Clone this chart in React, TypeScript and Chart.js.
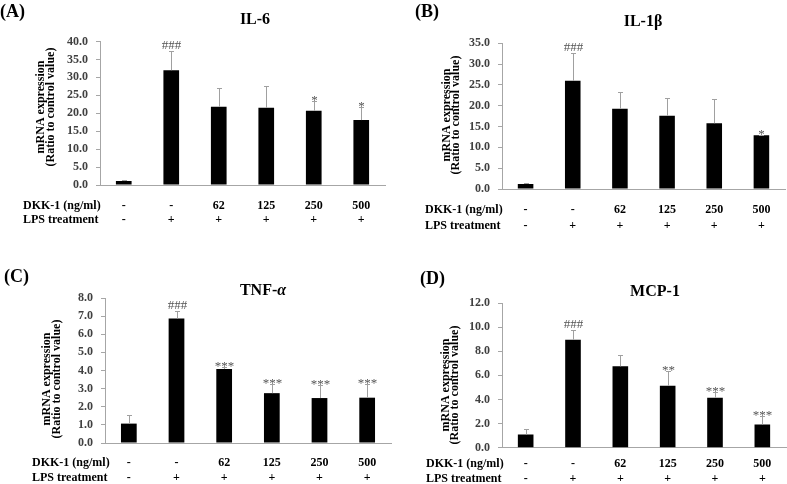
import React, { useEffect, useRef } from 'react';
import { Chart, registerables } from 'chart.js';

Chart.register(...registerables);

// ---------- data ----------
const categories = ['Control', 'LPS', 'DKK-1 62', 'DKK-1 125', 'DKK-1 250', 'DKK-1 500'];
const dkkLabels = ['-', '-', '62', '125', '250', '500'];
const lpsLabels = ['-', '+', '+', '+', '+', '+'];

const il6Values = [1.1, 32.0, 21.8, 21.5, 20.7, 18.1];
const il6Errors = [0.3, 5.3, 5.2, 6.1, 2.8, 3.7];
const il6Marks = ['', '###', '', '', '*', '*'];

const il1bValues = [1.2, 26.0, 19.3, 17.6, 15.8, 12.9];
const il1bErrors = [0.3, 6.6, 4.0, 4.3, 5.7, 0.1];
const il1bMarks = ['', '###', '', '', '', '*'];

const tnfValues = [1.07, 6.87, 4.08, 2.75, 2.48, 2.5];
const tnfErrors = [0.48, 0.4, 0.1, 0.52, 0.72, 0.77];
const tnfMarks = ['', '###', '***', '***', '***', '***'];

const mcpValues = [1.1, 8.96, 6.75, 5.14, 4.15, 1.93];
const mcpErrors = [0.42, 0.84, 0.93, 1.26, 0.45, 0.67];
const mcpMarks = ['', '###', '', '**', '***', '***'];

const yTitleLines = ['mRNA expression', '(Ratio to control value)'];
const dkkRowTitle = 'DKK-1 (ng/ml)';
const lpsRowTitle = 'LPS treatment';

// ---------- styles / layout ----------
const FONT = '"Liberation Serif", "Times New Roman", serif';
const AXIS_COLOR = '#a6a6a6';
const ERR_COLOR = '#a0a0a0';
const TICK_COLOR = '#404040';
const MARK_COLOR = '#555555';

type PanelCfg = {
  letter: string;
  title: string;
  titleItalicTail?: string;
  values: number[];
  errors: number[];
  marks: string[];
  yMax: number;
  yStep: number;
  box: { x: number; y: number; w: number; h: number };
  area: { left: number; right: number; top: number; bottom: number };
  letterPos: [number, number];
  titlePos: [number, number];
  yTitlePos: [number, number, number];
  rowPos: [number, number, number];
};

const panels: PanelCfg[] = [
  {
    letter: '(A)', title: 'IL-6', values: il6Values, errors: il6Errors, marks: il6Marks,
    yMax: 40, yStep: 5,
    box: { x: 0, y: 0, w: 393, h: 242 },
    area: { left: 100, right: 385, top: 41.5, bottom: 185 },
    letterPos: [0, 12], titlePos: [255, 20], yTitlePos: [41, 51, 107], rowPos: [23, 206, 220],
  },
  {
    letter: '(B)', title: 'IL-1β', values: il1bValues, errors: il1bErrors, marks: il1bMarks,
    yMax: 35, yStep: 5,
    box: { x: 393, y: 0, w: 394, h: 242 },
    area: { left: 109, right: 392, top: 43.3, bottom: 189 },
    letterPos: [22, 12], titlePos: [250, 22], yTitlePos: [54, 63, 115], rowPos: [32, 210, 226],
  },
  {
    letter: '(C)', title: 'TNF-', titleItalicTail: 'α', values: tnfValues, errors: tnfErrors, marks: tnfMarks,
    yMax: 8, yStep: 1,
    box: { x: 0, y: 242, w: 393, h: 242 },
    area: { left: 105, right: 391, top: 56, bottom: 201 },
    letterPos: [4, 35], titlePos: [263, 49], yTitlePos: [47, 57, 137], rowPos: [32, 221, 236],
  },
  {
    letter: '(D)', title: 'MCP-1', values: mcpValues, errors: mcpErrors, marks: mcpMarks,
    yMax: 12, yStep: 2,
    box: { x: 393, y: 242, w: 394, h: 242 },
    area: { left: 109, right: 393, top: 61, bottom: 205.7 },
    letterPos: [27, 37], titlePos: [262, 50], yTitlePos: [53, 62, 143], rowPos: [33, 222, 237],
  },
];

function makeOverlay(cfg: PanelCfg) {
  return {
    id: 'overlay',
    afterDatasetsDraw(chart: any) {
      const { ctx } = chart;
      const x = chart.scales.x;
      const y = chart.scales.y;
      ctx.save();
      ctx.strokeStyle = ERR_COLOR;
      ctx.lineWidth = 1;
      cfg.values.forEach((v, i) => {
        const px = Math.round(x.getPixelForValue(i)) + 0.5;
        const base = y.getPixelForValue(v);
        const top = Math.round(y.getPixelForValue(v + cfg.errors[i])) + 0.5;
        ctx.beginPath();
        ctx.moveTo(px, base);
        ctx.lineTo(px, top);
        ctx.moveTo(px - 2.5, top);
        ctx.lineTo(px + 2.5, top);
        ctx.stroke();
        if (cfg.marks[i]) {
          ctx.fillStyle = MARK_COLOR;
          ctx.font = `13px ${FONT}`;
          ctx.textAlign = 'center';
          ctx.textBaseline = 'alphabetic';
          ctx.fillText(cfg.marks[i], px, top + (cfg.marks[i][0] === '#' ? -3 : 2));
        }
      });
      ctx.restore();
    },
    afterDraw(chart: any) {
      const { ctx } = chart;
      const x = chart.scales.x;
      ctx.save();
      ctx.fillStyle = '#000';
      // panel letter
      ctx.font = `bold 18px ${FONT}`;
      ctx.textAlign = 'left';
      ctx.textBaseline = 'middle';
      ctx.fillText(cfg.letter, cfg.letterPos[0], cfg.letterPos[1]);
      // title
      ctx.font = `bold 16px ${FONT}`;
      if (cfg.titleItalicTail) {
        const w1 = ctx.measureText(cfg.title).width;
        ctx.font = `italic bold 16px ${FONT}`;
        const w2 = ctx.measureText(cfg.titleItalicTail).width;
        const start = cfg.titlePos[0] - (w1 + w2) / 2;
        ctx.font = `bold 16px ${FONT}`;
        ctx.fillText(cfg.title, start, cfg.titlePos[1]);
        ctx.font = `italic bold 16px ${FONT}`;
        ctx.fillText(cfg.titleItalicTail, start + w1, cfg.titlePos[1]);
      } else {
        ctx.textAlign = 'center';
        ctx.fillText(cfg.title, cfg.titlePos[0], cfg.titlePos[1]);
      }
      // y title
      ctx.font = `bold 12px ${FONT}`;
      ctx.textAlign = 'center';
      ctx.textBaseline = 'middle';
      yTitleLines.forEach((line, k) => {
        ctx.save();
        ctx.translate(cfg.yTitlePos[k], cfg.yTitlePos[2]);
        ctx.rotate(-Math.PI / 2);
        ctx.fillText(line, 0, 0);
        ctx.restore();
      });
      // row labels
      ctx.font = `bold 12px ${FONT}`;
      ctx.textAlign = 'left';
      ctx.fillText(dkkRowTitle, cfg.rowPos[0], cfg.rowPos[1]);
      ctx.fillText(lpsRowTitle, cfg.rowPos[0], cfg.rowPos[2]);
      ctx.textAlign = 'center';
      categories.forEach((_, i) => {
        const px = x.getPixelForValue(i);
        ctx.fillText(dkkLabels[i], px, cfg.rowPos[1]);
        ctx.fillText(lpsLabels[i], px, cfg.rowPos[2]);
      });
      ctx.restore();
    },
  };
}

function Panel({ cfg }: { cfg: PanelCfg }) {
  const ref = useRef<HTMLCanvasElement>(null);
  useEffect(() => {
    const { w, h } = cfg.box;
    const a = cfg.area;
    const chart = new Chart(ref.current as HTMLCanvasElement, {
      type: 'bar',
      data: {
        labels: categories,
        datasets: [
          {
            data: cfg.values,
            backgroundColor: '#000000',
            borderWidth: 0,
            barPercentage: 0.33,
            categoryPercentage: 1.0,
          },
        ],
      },
      options: {
        responsive: false,
        animation: false,
        events: [],
        layout: { padding: { left: 0, top: a.top, right: w - a.right, bottom: 0 } },
        plugins: { legend: { display: false }, tooltip: { enabled: false }, title: { display: false } },
        scales: {
          x: {
            type: 'category',
            ticks: { display: false },
            grid: { display: false },
            border: { display: true, color: AXIS_COLOR, width: 1 },
            afterFit: (s: any) => { s.height = h - a.bottom; },
          },
          y: {
            min: 0,
            max: cfg.yMax,
            ticks: {
              stepSize: cfg.yStep,
              callback: (v: any) => Number(v).toFixed(1),
              font: { family: FONT, size: 12, weight: 'bold' },
              color: TICK_COLOR,
              padding: 8,
            },
            grid: { display: true, drawOnChartArea: false, drawTicks: true, tickLength: 4, color: AXIS_COLOR },
            border: { display: true, color: AXIS_COLOR, width: 1 },
            afterFit: (s: any) => { s.width = a.left; },
          },
        },
      } as any,
      plugins: [makeOverlay(cfg)],
    });
    return () => chart.destroy();
  }, [cfg]);
  return (
    <div style={{ position: 'absolute', left: cfg.box.x, top: cfg.box.y, width: cfg.box.w, height: cfg.box.h }}>
      <canvas ref={ref} width={cfg.box.w} height={cfg.box.h} style={{ display: 'block' }} />
    </div>
  );
}

export default function App() {
  return (
    <div style={{ position: 'fixed', left: 0, top: 0, width: 787, height: 484, background: '#fff' }}>
      {panels.map((p) => (
        <Panel key={p.letter} cfg={p} />
      ))}
    </div>
  );
}
